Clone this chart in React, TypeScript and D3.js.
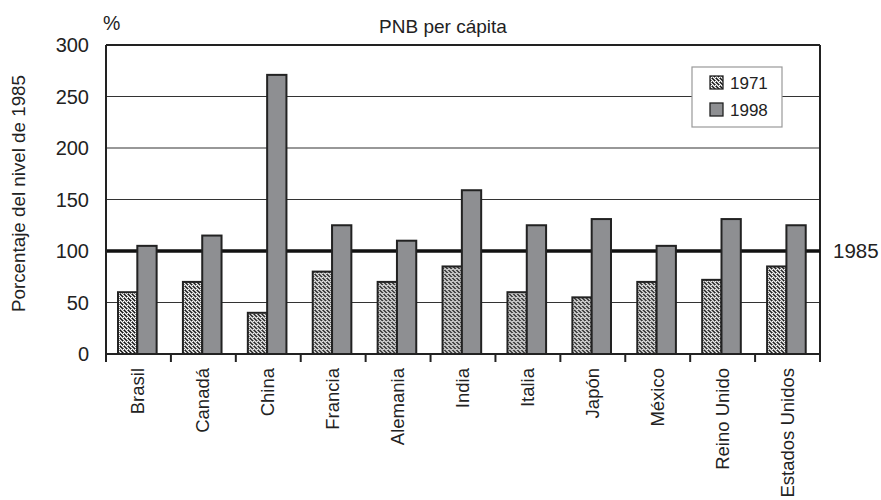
import React from "react";
import * as d3 from "d3";

const categories = ["Brasil", "Canadá", "China", "Francia", "Alemania", "India", "Italia", "Japón", "México", "Reino Unido", "Estados Unidos"];
const series1971 = [60, 70, 40, 80, 70, 85, 60, 55, 70, 72, 85];
const series1998 = [105, 115, 271, 125, 110, 159, 125, 131, 105, 131, 125];
const seriesNames = ["1971", "1998"];
const yTicks = [0, 50, 100, 150, 200, 250, 300];
const gridValues = [50, 150, 200, 250];
const referenceValue = 100;

const W = 881, H = 500;
const left = 106, right = 820, top = 45, bottom = 354;
const FONT = "'Liberation Sans', Arial, sans-serif";

export default function App() {
  const y = d3.scaleLinear().domain([0, 300]).range([bottom, top]);
  const x0 = d3.scaleBand<string>().domain(categories).range([left, right]).padding(0);
  const step = x0.bandwidth();
  const x1 = d3.scaleBand<string>().domain(seriesNames).range([step * 0.185, step * 0.78]).padding(0);
  const values = [series1971, series1998];
  const boundaries = categories.map((c) => x0(c)!).concat([right]);

  return (
    <svg width={W} height={H} style={{ position: "absolute", left: 0, top: 0, background: "#fff" }} fontFamily={FONT}>
      <defs>
        <pattern id="hatch" patternUnits="userSpaceOnUse" width="4" height="4">
          <rect width="4" height="4" fill="#fff" />
          <path d="M0,0 L4,4 M-1,3 L1,5 M3,-1 L5,1" stroke="#111" strokeWidth="1.5" />
          <rect x="1" y="1" width="1" height="1" fill="#fff" />
        </pattern>
      </defs>

      {/* gridlines */}
      {gridValues.map((v) => (
        <line key={v} x1={left} x2={right} y1={y(v)} y2={y(v)} stroke="#333" strokeWidth={1.2} />
      ))}
      {/* top & right border */}
      <line x1={left} x2={right} y1={y(300)} y2={y(300)} stroke="#222" strokeWidth={2} />
      <line x1={right} x2={right} y1={top} y2={bottom} stroke="#222" strokeWidth={2} />

      {/* reference line */}
      <line x1={left} x2={right} y1={y(referenceValue)} y2={y(referenceValue)} stroke="#111" strokeWidth={3.5} />

      {/* bars */}
      {categories.map((c, i) => (
        <g key={c} transform={`translate(${x0(c)},0)`}>
          {seriesNames.map((s, j) => (
            <rect
              key={s}
              x={x1(s)}
              y={y(values[j][i])}
              width={x1.bandwidth()}
              height={y(0) - y(values[j][i])}
              fill={j === 0 ? "url(#hatch)" : "#8e8f92"}
              stroke="#222"
              strokeWidth={2}
            />
          ))}
        </g>
      ))}

      {/* axes */}
      <line x1={left} x2={left} y1={top} y2={bottom + 8} stroke="#222" strokeWidth={2} />
      <line x1={left} x2={right} y1={bottom} y2={bottom} stroke="#222" strokeWidth={2} />
      {boundaries.map((bx, i) => (
        <line key={i} x1={bx} x2={bx} y1={bottom} y2={bottom + 8} stroke="#222" strokeWidth={2} />
      ))}

      {/* y tick labels */}
      {yTicks.map((v) => (
        <text key={v} x={89} y={y(v)} dy="0.36em" textAnchor="end" fontSize={20} fill="#222">
          {v}
        </text>
      ))}

      {/* x labels */}
      {categories.map((c) => (
        <text
          key={c}
          transform={`translate(${x0(c)! + step / 2 + 6},368) rotate(-90)`}
          textAnchor="end"
          fontSize={18.5}
          fill="#222"
        >
          {c}
        </text>
      ))}

      {/* titles */}
      <text x={443} y={33} textAnchor="middle" fontSize={19} fill="#222">PNB per cápita</text>
      <text x={103} y={30} fontSize={19.5} fill="#222">%</text>
      <text transform={`translate(25,${(top + bottom) / 2 - 6}) rotate(-90)`} textAnchor="middle" fontSize={18.8} fill="#222">
        Porcentaje del nivel de 1985
      </text>
      <text x={833} y={y(referenceValue)} dy="0.36em" fontSize={20.5} fill="#222">1985</text>

      {/* legend */}
      <g>
        <rect x={692} y={67} width={90} height={60} fill="#fff" stroke="#999" strokeWidth={1.2} />
        {seriesNames.map((s, j) => (
          <g key={s} transform={`translate(710,${76 + j * 27})`}>
            <rect x={0} y={0} width={13} height={13} fill={j === 0 ? "url(#hatch)" : "#8e8f92"} stroke="#222" strokeWidth={1.3} />
            <text x={20} y={13} fontSize={17} fill="#222">{s}</text>
          </g>
        ))}
      </g>
    </svg>
  );
}
